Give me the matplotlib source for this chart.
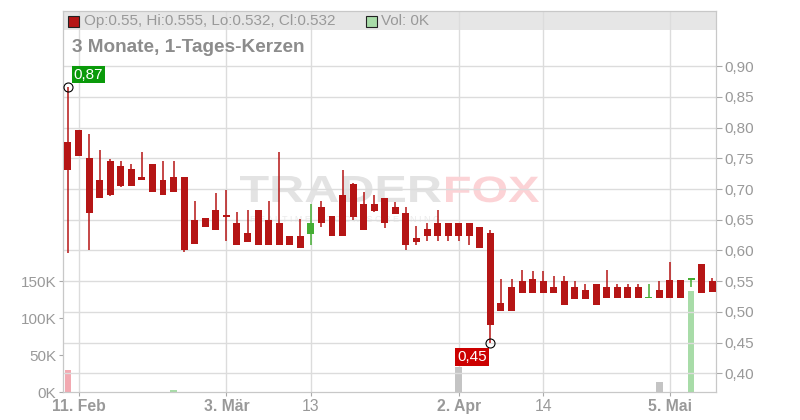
import pandas as pd
import matplotlib
matplotlib.use("Agg")
import matplotlib.pyplot as plt
from matplotlib.patches import Rectangle, PathPatch
from matplotlib.textpath import TextPath
from matplotlib.font_manager import FontProperties
from matplotlib.transforms import Affine2D

plt.rcParams["font.family"] = ["Liberation Sans", "DejaVu Sans"]

# trading days (German calendar, Good Friday / Easter Monday / 1 May closed)
HOLIDAYS = ["2025-04-18", "2025-04-21", "2025-05-01"]
days = [d for d in pd.bdate_range("2025-02-10", "2025-05-09") if d.strftime("%Y-%m-%d") not in HOLIDAYS]

opens = [0.776, 0.797, 0.750, 0.715, 0.746, 0.737, 0.732, 0.719, 0.741, 0.715,
         0.719, 0.719, 0.650, 0.653, 0.666, 0.658, 0.645, 0.628, 0.666, 0.650,
         0.645, 0.624, 0.624, 0.627, 0.671, 0.656, 0.690, 0.708, 0.676, 0.676,
         0.685, 0.671, 0.661, 0.620, 0.635, 0.645, 0.645, 0.644, 0.644, 0.639,
         0.629, 0.515, 0.540, 0.550, 0.554, 0.550, 0.540, 0.550, 0.540, 0.535,
         0.546, 0.541, 0.541, 0.541, 0.541, 0.522, 0.536, 0.552, 0.552, 0.552,
         0.578, 0.55]
highs = [0.866, 0.797, 0.790, 0.764, 0.749, 0.746, 0.741, 0.760, 0.741, 0.746,
         0.746, 0.719, 0.680, 0.653, 0.694, 0.698, 0.663, 0.666, 0.666, 0.681,
         0.760, 0.624, 0.652, 0.676, 0.681, 0.656, 0.731, 0.710, 0.695, 0.690,
         0.685, 0.679, 0.670, 0.640, 0.644, 0.666, 0.645, 0.644, 0.644, 0.639,
         0.634, 0.554, 0.554, 0.569, 0.566, 0.567, 0.559, 0.559, 0.551, 0.545,
         0.546, 0.568, 0.546, 0.546, 0.546, 0.546, 0.550, 0.581, 0.552, 0.555,
         0.578, 0.555]
lows = [0.596, 0.754, 0.600, 0.685, 0.689, 0.703, 0.705, 0.714, 0.695, 0.690,
        0.695, 0.598, 0.610, 0.639, 0.633, 0.616, 0.609, 0.614, 0.609, 0.609,
        0.609, 0.609, 0.604, 0.609, 0.639, 0.624, 0.624, 0.649, 0.634, 0.662,
        0.637, 0.660, 0.600, 0.609, 0.615, 0.616, 0.616, 0.615, 0.609, 0.604,
        0.449, 0.501, 0.501, 0.531, 0.531, 0.531, 0.531, 0.511, 0.521, 0.521,
        0.512, 0.522, 0.522, 0.522, 0.522, 0.522, 0.522, 0.522, 0.522, 0.540,
        0.530, 0.532]
closes = [0.731, 0.754, 0.661, 0.685, 0.690, 0.705, 0.705, 0.714, 0.695, 0.690,
          0.695, 0.600, 0.610, 0.639, 0.633, 0.654, 0.609, 0.614, 0.609, 0.609,
          0.609, 0.609, 0.604, 0.644, 0.644, 0.624, 0.624, 0.655, 0.634, 0.665,
          0.644, 0.660, 0.609, 0.614, 0.624, 0.624, 0.624, 0.624, 0.623, 0.604,
          0.478, 0.501, 0.501, 0.531, 0.531, 0.531, 0.531, 0.511, 0.521, 0.521,
          0.512, 0.522, 0.522, 0.522, 0.522, 0.522, 0.522, 0.522, 0.522, 0.555,
          0.530, 0.532]
volumes = [30000, 0, 0, 0, 0, 0, 0, 0, 0, 0,
           2500, 0, 0, 0, 0, 0, 0, 0, 0, 0,
           0, 0, 0, 0, 0, 0, 0, 0, 0, 0,
           0, 0, 0, 0, 0, 0, 0, 34000, 0, 0,
           0, 0, 0, 0, 0, 0, 0, 0, 0, 0,
           0, 0, 0, 0, 0, 0, 13500, 0, 0, 137000,
           0, 0]

tick_dates = ["2025-02-11", "2025-03-03", "2025-03-13", "2025-04-02", "2025-04-14", "2025-05-05"]
tick_labels = ["11. Feb", "3. Mär", "13", "2. Apr", "14", "5. Mai"]
tick_bold = [True, True, False, True, False, True]
price_ticks = [0.40, 0.45, 0.50, 0.55, 0.60, 0.65, 0.70, 0.75, 0.80, 0.85, 0.90]
vol_ticks = [0, 50000, 100000, 150000]

RED = "#b51515"
GREEN = "#44ad33"
GRID = "#dcdcdc"
TXT = "#999999"

W, H = 800, 420
fig = plt.figure(figsize=(8, 4.2), dpi=100)
ax_vol = fig.add_axes([63 / W, 28 / H, 653 / W, 381 / H])
ax = ax_vol.twinx()

x = list(range(len(days)))
day_str = [d.strftime("%Y-%m-%d") for d in days]

# volume bars, coloured by close vs previous close
vol_colors = []
for i, c in enumerate(closes):
    ref = closes[i - 1] if i > 0 else opens[0]
    if c > ref:
        vol_colors.append("#a8dca8")
    elif c < ref:
        vol_colors.append("#f2a9b1")
    else:
        vol_colors.append("#c4c4c4")
ax_vol.bar(x, volumes, width=0.62, color=vol_colors, zorder=2)
ax_vol.set_ylim(0, 515000)
ax_vol.set_yticks(vol_ticks)
ax_vol.set_yticklabels([f"{v // 1000}K" for v in vol_ticks])

# header band
ax_vol.add_patch(Rectangle((0, 1 - 19 / 381), 1, 19 / 381, transform=ax_vol.transAxes,
                           facecolor="#e6e6e6", edgecolor="none", zorder=0))


def watermark(word, left, right, baseline, cap, color):
    # stretched bold lettering placed in pixel coordinates
    tp = TextPath((0, 0), word, size=50, prop=FontProperties(family="Liberation Sans", weight="bold"))
    ext = tp.get_extents()
    sx = (right - left) / ext.width
    sy = cap / ext.height
    tr = Affine2D().translate(-ext.x0, 0).scale(sx, sy).translate(left, H - baseline)
    ax_vol.add_patch(PathPatch(tr.transform_path(tp), facecolor=color, edgecolor="none",
                               transform=None, zorder=1, clip_on=False))


watermark("TRADER", 240, 441, 202, 26, "#e3e3e3")
watermark("FOX", 446, 539, 202, 26, "#fcd3d6")
ax_vol.text(250 / W, 1 - 219 / H, " ".join("REALTIME STOCK SCREENING"), transform=fig.transFigure,
            fontsize=6.5, color="#ebebeb", ha="left", va="center", zorder=1)

# candles
colors = [GREEN if c >= o else RED for o, c in zip(opens, closes)]
ax.vlines(x, lows, highs, colors=colors, linewidth=1.1, zorder=3)
bottoms = [min(o, c) for o, c in zip(opens, closes)]
heights = [max(abs(c - o), 0.0018) for o, c in zip(opens, closes)]
ax.bar(x, heights, bottom=bottoms, width=0.66, color=colors, zorder=4)

# high / low markers
i_hi = highs.index(max(highs))
i_lo = lows.index(min(lows))
ax.plot([i_hi, i_lo], [highs[i_hi], lows[i_lo]], "o", ms=6.5, mfc="none", mec="black",
        mew=0.8, zorder=5)
ax.annotate(f"{highs[i_hi]:.2f}".replace(".", ","), (i_hi, highs[i_hi]),
            xytext=(5.5, 5.5), textcoords="offset pixels", ha="left", va="bottom",
            color="white", fontsize=11,
            bbox=dict(boxstyle="square,pad=0.12", fc="#0a9a0a", ec="none"), zorder=6)
ax.annotate(f"{lows[i_lo]:.2f}".replace(".", ","), (i_lo, lows[i_lo]),
            xytext=(-3.5, -6.5), textcoords="offset pixels", ha="right", va="top",
            color="white", fontsize=11,
            bbox=dict(boxstyle="square,pad=0.12", fc="#cc0000", ec="none"), zorder=6)

ax.set_ylim(0.3695, 0.990)
ax.set_yticks(price_ticks)
ax.set_yticklabels([f"{p:.2f}".replace(".", ",") for p in price_ticks])
ax.set_xlim(-0.47, 61.36)
ax.grid(axis="y", color=GRID, linewidth=1)

ax_vol.set_xticks([day_str.index(d) for d in tick_dates])
ax_vol.set_xticklabels(tick_labels)
for lab, b in zip(ax_vol.get_xticklabels(), tick_bold):
    lab.set_fontweight("bold" if b else "normal")
ax_vol.grid(axis="x", color=GRID, linewidth=1, zorder=1)
ax_vol.set_axisbelow(True)

for a in (ax, ax_vol):
    for s in a.spines.values():
        s.set_color("#c8c8c8")
ax_vol.spines["left"].set_color("#aaaaaa")
ax_vol.tick_params(axis="y", length=3, color="#aaaaaa", labelcolor=TXT, labelsize=11, pad=2)
ax_vol.tick_params(axis="x", length=3, color="#aaaaaa", labelcolor=TXT, labelsize=11.3, pad=2)
ax.tick_params(axis="y", length=4, color="#aaaaaa", labelcolor=TXT, labelsize=11, pad=2)

# header line and title
fig.add_artist(Rectangle((68 / W, 1 - 27 / H), 11 / W, 11 / H, transform=fig.transFigure,
                         facecolor=RED, edgecolor="#222222", linewidth=0.8))
fig.text(84 / W, 1 - 21 / H,
         f"Op:{opens[-1]:g}, Hi:{highs[-1]:g}, Lo:{lows[-1]:g}, Cl:{closes[-1]:g}",
         fontsize=11, color=TXT, va="center", ha="left")
fig.add_artist(Rectangle((366 / W, 1 - 27 / H), 11 / W, 11 / H, transform=fig.transFigure,
                         facecolor="#a8dca8", edgecolor="#222222", linewidth=0.8))
fig.text(381 / W, 1 - 21 / H, f"Vol: {volumes[-1] // 1000}K", fontsize=11, color=TXT,
         va="center", ha="left")
fig.text(72 / W, 1 - 48 / H, "3 Monate, 1-Tages-Kerzen", fontsize=13.7, fontweight="bold",
         color="#8c8c8c", va="center", ha="left")

fig.savefig("out.png", dpi=100)
